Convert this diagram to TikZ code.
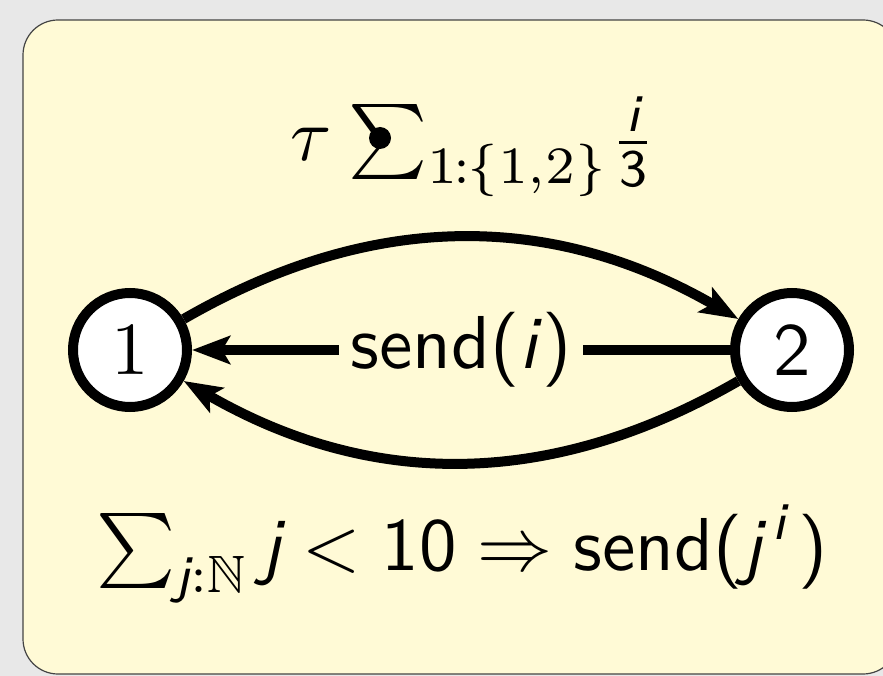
\documentclass[tikz,border=0pt]{standalone}
\usepackage{graphicx}
\usepackage{amsmath}
\usepackage{amssymb}
\usetikzlibrary{arrows.meta}
\definecolor{bggray}{HTML}{E8E8E8}
\definecolor{boxyellow}{HTML}{FFFAD6}
\definecolor{boxedge}{HTML}{444444}
\newcommand\sfit[1]{\textsf{\itshape #1}}
\newcommand\sfup[1]{\textsf{#1}}
\newcommand\bigtxt[1]{\scalebox{7.5}{\fontsize{10}{12}\selectfont #1}}
\begin{document}
\begin{tikzpicture}[x=1pt,y=-1pt,
  state/.style={circle,draw,line width=10pt,fill=white,minimum size=114pt,inner sep=0pt},
  trans/.style={line width=10pt,-{Stealth[length=38pt,width=28pt,inset=8pt]}},
  lbl/.style={fill=boxyellow,inner sep=12pt},
  dotmark/.style={circle,fill=black,inner sep=0pt,minimum size=22pt}]
\useasboundingbox (0,0) rectangle (883,676);
\fill[bggray] (0,0) rectangle (883,676);
\draw[boxedge,fill=boxyellow,line width=1.2pt,rounded corners=35pt] (23,20) rectangle (898,674);
\node[state] (n1) at (130,350) {\bigtxt{$1$}};
\node[state] (n2) at (792,350) {\bigtxt{\sfup{2}}};
\draw[trans] (n1) to[bend left=30] (n2);
\draw[trans] (n2) to[bend left=30] (n1);
\draw[trans] (n2) -- node[lbl] (mid) {\bigtxt{\sfup{send(}\sfit{i}\sfup{)}}} (n1);
\node[anchor=base west,inner sep=0pt] (top) at (290,161) {\bigtxt{$\tau\mkern1mu\sum_{1\mkern-1mu{:}\mkern-1mu\{1,2\}}\mkern-3mu\frac{\sfit{i}}{\sfup{3}}$}};
\node[dotmark] (dot) at (380,138) {};
\node[anchor=base] (bot) at (462,570) {\bigtxt{$\sum_{\sfit{j}:\mathbb{N}}\sfit{j}<\sfup{10}\Rightarrow\sfup{send(}\sfit{j}^{\,\sfit{i}}\mkern2mu\sfup{)}$}};
\end{tikzpicture}
\end{document}
